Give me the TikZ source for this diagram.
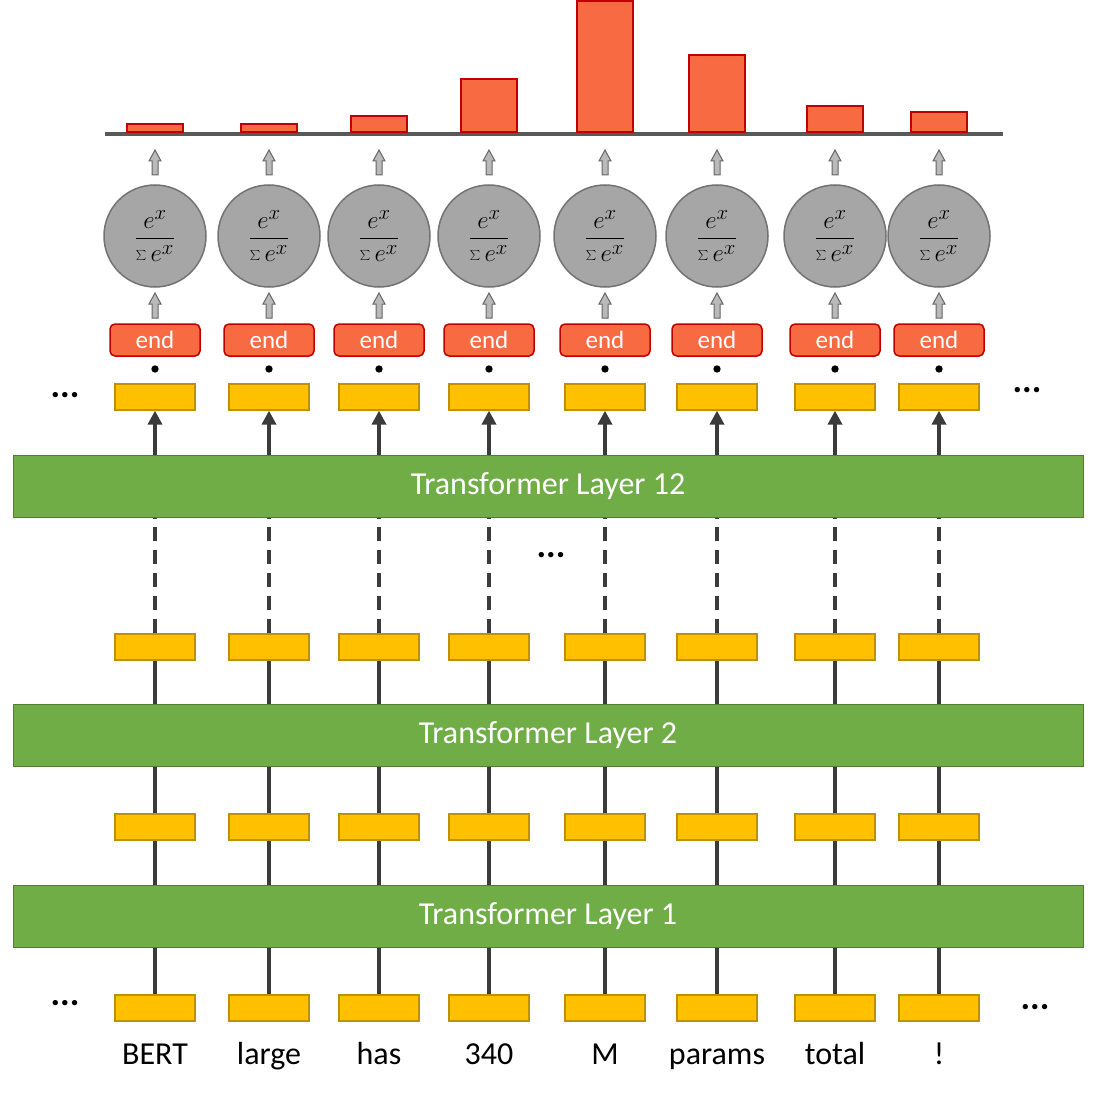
\documentclass[tikz,border=0pt]{standalone}
\usepackage{fontspec}
\setmainfont{Carlito}
\usetikzlibrary{arrows.meta}
\definecolor{ybox}{HTML}{FFC000}
\definecolor{ybord}{HTML}{BF9000}
\definecolor{gbar}{HTML}{70AD47}
\definecolor{gbord}{HTML}{507E32}
\definecolor{obox}{HTML}{F76A42}
\definecolor{obord}{HTML}{C00000}
\definecolor{dk}{HTML}{3B3B3B}
\tikzset{
 vec/.style={draw=ybord,fill=ybox,line width=1.2pt,minimum width=80pt,minimum height=26pt,inner sep=0},
 layer/.style={draw=gbord,fill=gbar,line width=1pt,minimum width=1070pt,minimum height=62pt,text=white,font=\fontsize{32}{36}\selectfont},
 endbox/.style={draw=obord,fill=obox,line width=1.5pt,rounded corners=5pt,minimum width=90pt,minimum height=32pt,text=white,font=\fontsize{25}{28}\selectfont,inner sep=0},
 smx/.style={circle,draw=gray!90!black,fill=gray!70,line width=1.5pt,minimum size=102pt,inner sep=0},
 conn/.style={dk,line width=3.5pt},
 hol/.style={draw=gray!80!black,fill=gray!55,line width=1pt},
 bar/.style={draw=obord,fill=obox,line width=1.2pt},
 word/.style={font=\fontsize{32}{36}\selectfont,anchor=base},
 dots/.style={font=\fontsize{36}{36}\selectfont\bfseries}
}
\begin{document}
\begin{tikzpicture}[x=1pt,y=-1pt]
\useasboundingbox (0,0) rectangle (1099,1099);
\node[layer] (L12) at (548,486) {Transformer Layer 12};
\node[layer] (L2) at (548,735) {Transformer Layer 2};
\node[layer] (L1) at (548,916) {Transformer Layer 1};
\draw[gray!70!black,line width=4pt] (105,134) -- (1003,134);
\foreach \i/\x/\w/\top in {1/155/BERT/124,2/269/large/124,3/379/has/116,4/489/340/79,5/605/M/1,6/717/params/55,7/835/total/106,8/939/!/112}{
  \node[vec] (a\i) at (\x,1008) {};
  \node[vec] (b\i) at (\x,827) {};
  \node[vec] (c\i) at (\x,647) {};
  \node[vec] (d\i) at (\x,397) {};
  \node[word] (w\i) at (\x,1064) {\w};
  \draw[conn] (a\i) -- (a\i|-L1.south);
  \draw[conn] (a\i|-L1.north) -- (b\i);
  \draw[conn] (b\i) -- (b\i|-L2.south);
  \draw[conn] (b\i|-L2.north) -- (c\i);
  \draw[conn,dash pattern=on 14pt off 9pt] (c\i) -- (c\i|-L12.south);
  \draw[conn,-{Triangle[length=14pt,width=14pt]}] (d\i|-L12.north) -- (d\i);
  \node[circle,fill=black,inner sep=2.6pt] (p\i) at (\x,369) {};
  \node[endbox] (e\i) at (\x,340) {end};
  \node[smx] (s\i) at (\x,236) {\fontsize{28}{30}\selectfont$\displaystyle\frac{e^x}{\sum e^x}$};
  \draw[hol] (\x-3,318)--(\x+3,318)--(\x+3,304)--(\x+6,304)--(\x,293)--(\x-6,304)--(\x-3,304)--cycle;
  \draw[hol] (\x-3,175)--(\x+3,175)--(\x+3,161)--(\x+6,161)--(\x,150)--(\x-6,161)--(\x-3,161)--cycle;
  \draw[bar] (\x-28,132) rectangle (\x+28,\top);
}
\node[dots] (t1) at (65,395) {...};
\node[dots] (t2) at (1027,390) {...};
\node[dots] (t3) at (551,555) {...};
\node[dots] (t4) at (65,1003) {...};
\node[dots] (t5) at (1035,1007) {...};
\end{tikzpicture}
\end{document}
